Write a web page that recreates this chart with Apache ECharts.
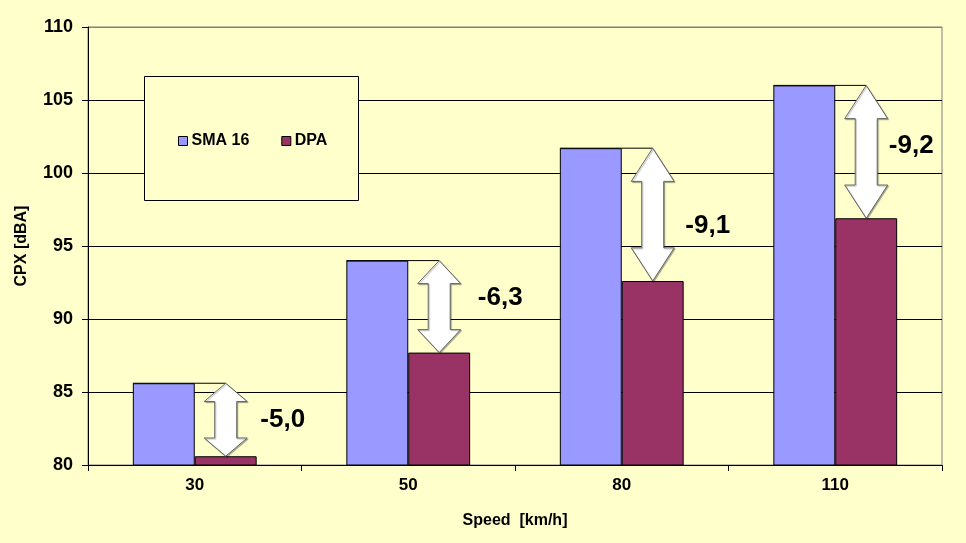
<!DOCTYPE html>
<html>
<head>
<meta charset="utf-8">
<script src="https://cdn.jsdelivr.net/npm/echarts@6/dist/echarts.min.js"></script>
<style>
html,body{margin:0;padding:0;background:#FFFFCC;}
#chart{width:966px;height:543px;}
</style>
</head>
<body>
<div id="chart"></div>
<script>
var categories = ['30', '50', '80', '110'];
var sma16 = [85.6, 94.0, 101.7, 106.0];
var dpa = [80.6, 87.7, 92.6, 96.9];
var diffLabels = ['-5,0', '-6,3', '-9,1', '-9,2'];
var yTicks = [80, 85, 90, 95, 100, 105, 110];

var FONT = 'Liberation Sans, Arial, sans-serif';
var GAP = 0.42;

var arrowData = categories.map(function (c, i) { return [i, sma16[i], dpa[i], diffLabels[i]]; });

function renderArrow(params, api) {
  var labelDx = [57, 61, 55, 45];
  var labelDy = [0, -9, 11, -6];
  var idx = api.value(0);
  var top = api.coord([idx, api.value(1)]);
  var bot = api.coord([idx, api.value(2)]);
  var band = api.size([1, 0])[0];
  var barW = band * (1 - GAP) / 2;
  var cx = top[0] + barW / 2;
  var yT = top[1], yB = bot[1];
  var span = yB - yT;
  var hl = span * 0.25, hw = 21.5, sw = 11;
  var pts = [
    [cx, yT], [cx + hw, yT + hl], [cx + sw, yT + hl], [cx + sw, yB - hl], [cx + hw, yB - hl],
    [cx, yB], [cx - hw, yB - hl], [cx - sw, yB - hl], [cx - sw, yT + hl], [cx - hw, yT + hl]
  ];
  return {
    type: 'group',
    children: [
      { type: 'line', shape: { x1: top[0] - barW, y1: yT, x2: cx, y2: yT },
        style: { stroke: '#000', lineWidth: 1 } },
      { type: 'polygon', shape: { points: pts },
        style: { fill: '#FFFFFF', stroke: '#666666', lineWidth: 1,
                 shadowColor: 'rgba(0,0,0,0.3)', shadowOffsetX: 1, shadowOffsetY: 1, shadowBlur: 1 } },
      { type: 'text', x: cx + labelDx[idx], y: (yT + yB) / 2 + labelDy[idx],
        style: { text: api.value(3), fill: '#000', font: 'bold 26px ' + FONT,
                 align: 'center', verticalAlign: 'middle' } }
    ]
  };
}

var chart = echarts.init(document.getElementById('chart'));
chart.setOption({
  animation: false,
  backgroundColor: '#FFFFCC',
  textStyle: { fontFamily: FONT },
  grid: { left: 88, right: 24, top: 27, bottom: 78, show: true, borderColor: '#808080', borderWidth: 1, backgroundColor: 'transparent' },
  graphic: [{
    type: 'rect', left: 144, top: 76, z: 3,
    shape: { width: 214, height: 124 },
    style: { fill: '#FFFFCC', stroke: '#000', lineWidth: 1 }
  }],
  legend: {
    left: 173, top: 128, z: 5,
    itemWidth: 9, itemHeight: 9, itemGap: 32,
    icon: 'rect',
    textStyle: { fontFamily: FONT, fontWeight: 'bold', fontSize: 16, color: '#000', padding: [0, 0, 0, -1] },
    itemStyle: { borderColor: '#000', borderWidth: 1 },
    data: ['SMA 16', 'DPA']
  },
  xAxis: {
    type: 'category',
    data: categories,
    name: 'Speed  [km/h]',
    nameLocation: 'middle',
    nameGap: 48,
    nameTextStyle: { fontFamily: FONT, fontWeight: 'bold', fontSize: 16, color: '#000' },
    axisLine: { lineStyle: { color: '#000', width: 1 } },
    axisTick: { show: true, length: 6, alignWithLabel: false, lineStyle: { color: '#000' } },
    axisLabel: { fontFamily: FONT, fontWeight: 'bold', fontSize: 17, color: '#000', margin: 12 }
  },
  yAxis: {
    type: 'value',
    min: yTicks[0], max: yTicks[yTicks.length - 1], interval: 5,
    name: 'CPX [dBA]',
    nameLocation: 'middle',
    nameRotate: 90,
    nameGap: 58,
    nameTextStyle: { fontFamily: FONT, fontWeight: 'bold', fontSize: 16, color: '#000' },
    axisLine: { show: true, lineStyle: { color: '#000', width: 1 } },
    axisTick: { show: true, length: 6, lineStyle: { color: '#000' } },
    axisLabel: { fontFamily: FONT, fontWeight: 'bold', fontSize: 18, color: '#000', margin: 15 },
    splitLine: { show: true, lineStyle: { color: ['#000', '#000', '#000', '#000', '#000', '#000', '#808080'], width: 1 } }
  },
  series: [
    { name: 'SMA 16', type: 'bar', data: sma16, barGap: '0%', barCategoryGap: (GAP * 100) + '%',
      itemStyle: { color: '#9999FF', borderColor: '#000', borderWidth: 1 } },
    { name: 'DPA', type: 'bar', data: dpa, barGap: '0%', barCategoryGap: (GAP * 100) + '%',
      itemStyle: { color: '#993366', borderColor: '#000', borderWidth: 1 } },
    { type: 'custom', renderItem: renderArrow, data: arrowData, z: 10,
      encode: { x: 0, y: [1, 2] }, silent: true }
  ]
});
</script>
</body>
</html>
